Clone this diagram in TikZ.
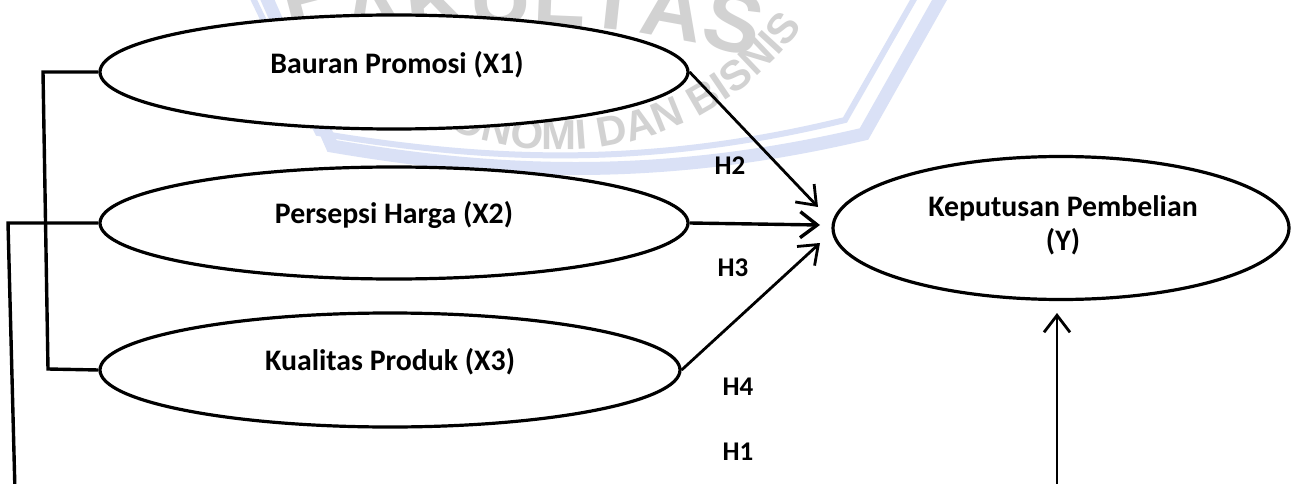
\documentclass[tikz,border=0pt]{standalone}
\usepackage{fontspec}
\setmainfont{Carlito}
\newfontfamily\wmfont{Liberation Sans}
\usetikzlibrary{shapes.geometric,arrows.meta,decorations.text}
\definecolor{wmblue}{RGB}{218,225,246}
\definecolor{wmgray}{RGB}{210,210,210}
\begin{document}
\begin{tikzpicture}[x=1pt,y=-1pt,
  oval/.style={ellipse, draw=black, line width=3.2pt, fill=white, inner sep=0pt},
  lbl/.style={font=\fontsize{29.8}{36}\selectfont\bfseries, inner sep=0pt},
  hlbl/.style={font=\fontsize{27}{32}\selectfont\bfseries, inner sep=0pt},
  link/.style={line width=3.4pt, line join=miter},
  arr/.style={line width=2.8pt, -{Straight Barb[length=17pt,width=26pt]}},
]
\useasboundingbox (0,0) rectangle (1293,484);
\fill[white] (0,0) rectangle (1293,484);

% watermark
\draw[wmblue, line width=6pt] (250,-8) -- (318,133) .. controls (480,160) and (640,170) .. (845,120) -- (918,-8);
\draw[wmblue, line width=13pt] (264,-8) -- (332,146) .. controls (490,173) and (655,183) .. (864,134) -- (944,-8);
\begin{scope}[color=wmgray]
\path[decorate, decoration={text along path, text align=center,
  text={|\color{wmgray}\wmfont\bfseries\fontsize{86}{86}\selectfont|FAKULTAS}}]
  (187,100) arc[start angle=245, end angle=295, radius=800];
\path[decorate, decoration={text along path, text align=right,
  text={|\color{wmgray}\wmfont\bfseries\fontsize{42}{42}\selectfont|EKONOMI DAN BISNIS}}]
  (300,0) arc[start angle=150, end angle=36, radius=300];
\end{scope}

% ovals
\node[oval, minimum width=588pt, minimum height=114pt] (X1) at (394,72) {};
\node[oval, minimum width=588pt, minimum height=112pt] (X2) at (394,223) {};
\node[oval, minimum width=580pt, minimum height=114pt] (X3) at (390,370) {};
\node[oval, minimum width=456pt, minimum height=143pt] (Y) at (1061,228) {};

\node[lbl] (tX1) at (397,65) {Bauran Promosi (X1)};
\node[lbl] (tX2) at (394,215) {Persepsi Harga (X2)};
\node[lbl] (tX3) at (390,362) {Kualitas Produk (X3)};
\node[lbl] (tY1) at (1063,208) {Keputusan Pembelian};
\node[lbl] (tY2) at (1063,242) {(Y)};

\node[hlbl] (H2) at (730,166) {H2};
\node[hlbl] (H3) at (733,268) {H3};
\node[hlbl] (H4) at (738,387) {H4};
\node[hlbl] (H1) at (738,452) {H1};

% coordinates
\coordinate (t1) at (818,207);
\coordinate (t2) at (820,225);
\coordinate (t3) at (820,243);
\coordinate (b0) at (1057,492);
\coordinate (tb) at (1057,313);
\coordinate (k1) at (43,72);
\coordinate (k2) at (48,369);
\coordinate (k3) at (8,223);
\coordinate (k4) at (15,492);

% brackets
\draw[link] (X1.west) -- (k1) -- (k2) -- (X3.west);
\draw[link] (X2.west) -- (k3) -- (k4);

% arrows
\draw[arr] (X1.east) -- (t1);
\draw[arr, line width=3.4pt] (X2.east) -- (t2);
\draw[arr] (X3.east) -- (t3);
\draw[arr] (b0) -- (tb);
\end{tikzpicture}
\end{document}
